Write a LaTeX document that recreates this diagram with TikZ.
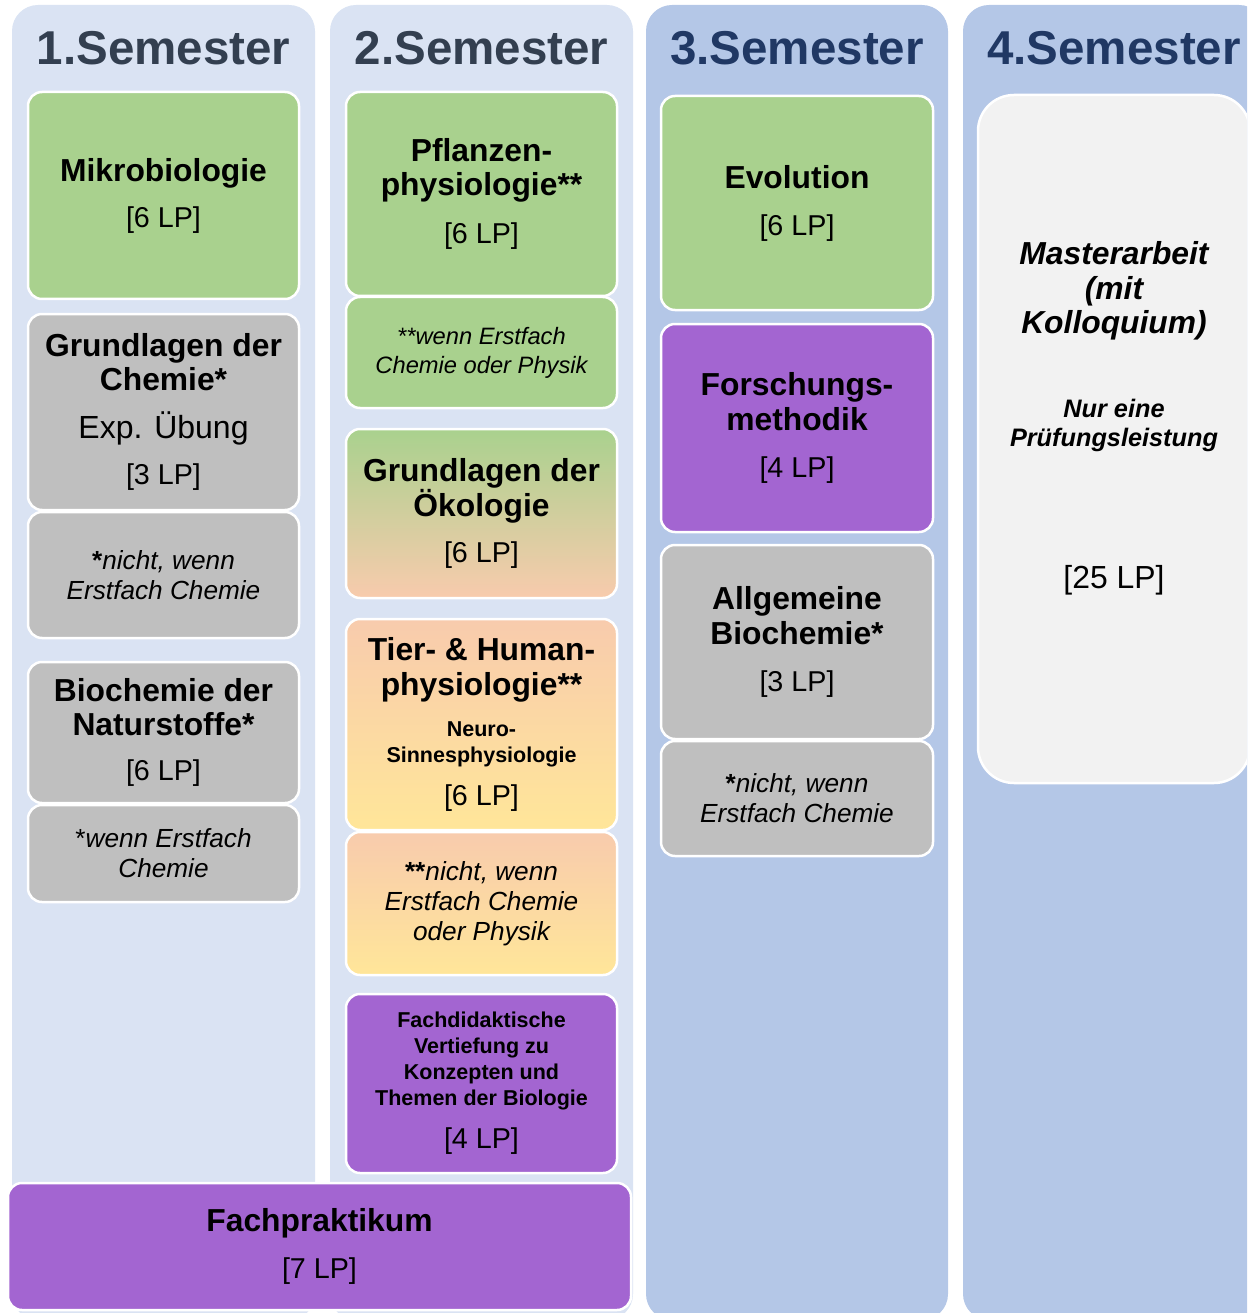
\documentclass[tikz,border=0pt]{standalone}
\usepackage{fontspec}
\setmainfont{Liberation Sans}

\definecolor{spaltehell}{HTML}{DAE3F3}
\definecolor{spaltedunkel}{HTML}{B4C7E7}
\definecolor{gruen}{HTML}{A9D18E}
\definecolor{grau}{HTML}{BFBFBF}
\definecolor{lila}{HTML}{A365D1}
\definecolor{pfirsich}{HTML}{F8CBAD}
\definecolor{gelb}{HTML}{FFE699}
\definecolor{hellgrau}{HTML}{F2F2F2}
\definecolor{kopfgrau}{HTML}{333F50}
\definecolor{kopfblau}{HTML}{203864}

\newcommand\groesse[2]{\fontsize{#1}{#2}\selectfont\spaceskip=0pt\xspaceskip=0pt\relax}
\newcommand\titel[1]{{\groesse{31.8}{34.5}\bfseries #1\par}}
\newcommand\lpzahl[1]{{\groesse{28.7}{32}#1\par}}
\newcommand\anm[1]{{\groesse{26.2}{30}\itshape #1\par}}
\newcommand\klein[1]{{\groesse{21.5}{26}\bfseries #1\par}}

\begin{document}
\begin{tikzpicture}[x=1pt,y=-1pt]
\tikzstyle{every node}=[inner sep=0pt]
\tikzstyle{spalte}=[rounded corners=26pt, minimum width=303pt, minimum height=1315pt]
\tikzstyle{kopf}=[anchor=base, font=\fontsize{47.5}{50}\selectfont\bfseries]
\tikzstyle{modul}=[draw=white, line width=2.5pt, rounded corners=14pt, minimum width=271pt, text width=264pt, align=flush center]
\useasboundingbox (0,0) rectangle (1247,1313);
\clip (0,0) rectangle (1247,1313);
% Spalten
\draw (163.5,662.5) node (s1) [spalte, fill=spaltehell] {};
\draw (481.5,662.5) node (s2) [spalte, fill=spaltehell] {};
\draw (797,662.5) node (s3) [spalte, fill=spaltedunkel, minimum width=302pt] {};
\draw (1114,662.5) node (s4) [spalte, fill=spaltedunkel, minimum width=302pt] {};
\draw (163.5,65) node (k1) [kopf, text=kopfgrau] {1.Semester};
\draw (481.5,65) node (k2) [kopf, text=kopfgrau] {2.Semester};
\draw (797,65) node (k3) [kopf, text=kopfblau] {3.Semester};
\draw (1114,65) node (k4) [kopf, text=kopfblau] {4.Semester};
% 1. Semester
\draw (163.5,195.5) node (m1) [modul, fill=gruen, minimum height=207pt] {\titel{Mikrobiologie}\vspace{14pt}\lpzahl{[6 LP]}};
\draw (163.5,412) node (m2) [modul, fill=grau, minimum height=196pt] {\titel{Grundlagen der\\Chemie*}\vspace{13pt}{\groesse{32}{35}Exp. Übung\par}\vspace{14pt}\lpzahl{[3 LP]}};
\draw (163.5,575) node (a2) [modul, fill=grau, minimum height=126pt] {\anm{{\upshape\bfseries *}nicht, wenn\\Erstfach Chemie}};
\draw (163.5,732.5) node (m3) [modul, fill=grau, minimum height=141pt] {\titel{Biochemie der\\Naturstoffe*}\vspace{13pt}\lpzahl{[6 LP]}};
\draw (163.5,853.5) node (a3) [modul, fill=grau, minimum height=97pt] {\anm{{\upshape *}wenn Erstfach\\Chemie}};
% 2. Semester
\draw (481.5,194) node (m4) [modul, fill=gruen, minimum height=204pt] {\titel{Pflanzen-\\physiologie**}\vspace{16pt}\lpzahl{[6 LP]}};
\draw (481.5,352.5) node (a4) [modul, fill=gruen, minimum height=111pt] {{\groesse{23.7}{29}\itshape **wenn Erstfach\\Chemie oder Physik\par}};
\draw (481.5,513.5) node (m5) [modul, top color=gruen, bottom color=pfirsich, minimum height=169pt] {\titel{Grundlagen der\\Ökologie}\vspace{14pt}\lpzahl{[6 LP]}};
\draw (481.5,724.5) node (m6) [modul, top color=pfirsich, bottom color=gelb, minimum height=211pt] {\titel{Tier- \& Human-\\physiologie**}\vspace{15pt}\klein{Neuro-\\Sinnesphysiologie}\vspace{11pt}\lpzahl{[6 LP]}};
\draw (481.5,903.5) node (a6) [modul, top color=pfirsich, bottom color=gelb, minimum height=143pt] {\anm{{\upshape\bfseries **}nicht, wenn\\Erstfach Chemie\\oder Physik}};
\draw (481.5,1083.5) node (m7) [modul, fill=lila, minimum height=179pt] {\klein{Fachdidaktische\\Vertiefung zu\\Konzepten und\\Themen der Biologie}\vspace{11pt}\lpzahl{[4 LP]}};
\draw (319.5,1246.5) node (m8) [modul, fill=lila, minimum width=623pt, minimum height=127pt] {\titel{Fachpraktikum}\vspace{15pt}\lpzahl{[7 LP]}};
% 3. Semester
\draw (797,203) node (m9) [modul, fill=gruen, minimum width=272pt, minimum height=214pt] {\titel{Evolution}\vspace{15pt}\lpzahl{[6 LP]}};
\draw (797,428) node (m10) [modul, fill=lila, minimum width=272pt, minimum height=208pt] {\titel{Forschungs-\\methodik}\vspace{15pt}\lpzahl{[4 LP]}};
\draw (797,642) node (m11) [modul, fill=grau, minimum width=272pt, minimum height=194pt] {\titel{Allgemeine\\Biochemie*}\vspace{15pt}\lpzahl{[3 LP]}};
\draw (797,798.5) node (a11) [modul, fill=grau, minimum width=272pt, minimum height=115pt] {\anm{{\upshape\bfseries *}nicht, wenn\\Erstfach Chemie}};
% 4. Semester
\draw (1114,439) node (m12) [modul, fill=hellgrau, rounded corners=36pt, minimum width=272pt, minimum height=688pt] {\titel{\itshape Masterarbeit\\(mit\\Kolloquium)}\vspace{54pt}{\groesse{25.3}{29.5}\bfseries\itshape Nur eine\\Prüfungsleistung\par}\vspace{107pt}{\groesse{31.9}{35}[25 LP]\par}\vspace{36pt}\mbox{}};
\end{tikzpicture}
\end{document}
